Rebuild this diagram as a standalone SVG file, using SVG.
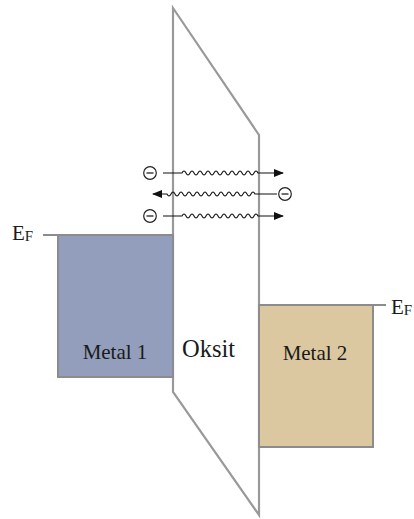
<svg xmlns="http://www.w3.org/2000/svg" width="414" height="519" viewBox="0 0 414 519">
<style>
.edge{fill:none;stroke:#8c8c8c;stroke-width:2}
.ox{fill:#fff;stroke:#999;stroke-width:2.2;stroke-linejoin:miter}
.lbl{font-family:"Liberation Serif","Times New Roman",serif;fill:#1a1a1a}
.wave{fill:none;stroke:#111;stroke-width:1.1}
.el{fill:#fff;stroke:#222;stroke-width:1.2}
.minus{stroke:#222;stroke-width:1.3}
</style>
<defs>
<marker id="ah" markerWidth="10" markerHeight="8" refX="9" refY="4" orient="auto" markerUnits="userSpaceOnUse">
<path d="M0,0 L10,4 L0,8 Z" fill="#111"/>
</marker>
</defs>
<g id="oxide">
<path class="ox" d="M173,8 L259,135 L259,515 L173,392 Z"/>
<text class="lbl" x="182" y="357" font-size="24.5">Oksit</text>
</g>
<g id="metal1">
<rect x="58" y="235" width="115" height="142" fill="#929ebb" stroke="#8c8c8c" stroke-width="2"/>
<text class="lbl" x="115" y="359" font-size="21" text-anchor="middle">Metal 1</text>
</g>
<g id="metal2">
<rect x="259" y="305" width="114" height="142" fill="#dcc8a0" stroke="#8c8c8c" stroke-width="2"/>
<text class="lbl" x="315" y="360" font-size="21" text-anchor="middle">Metal 2</text>
</g>
<g id="ef-left">
<line class="edge" x1="43" y1="235" x2="58" y2="235"/>
<text class="lbl" x="12" y="240" font-size="21">E<tspan font-size="15" dy="1">F</tspan></text>
</g>
<g id="ef-right">
<line class="edge" x1="373" y1="305" x2="386" y2="305"/>
<text class="lbl" x="391" y="314" font-size="21">E<tspan font-size="15" dy="1">F</tspan></text>
</g>
<g id="connectors">
<path class="wave" marker-end="url(#ah)" d="M163,173 L182,173 q2,-4 4,0 t4,0 t4,0 t4,0 t4,0 t4,0 t4,0 t4,0 t4,0 t4,0 t4,0 t4,0 t4,0 t4,0 t4,0 t4,0 t4,0 t4,0 t4,0 L283,173"/>
<path class="wave" marker-end="url(#ah)" d="M277,194 L255,194 q-2,-4 -4,0 t-4,0 t-4,0 t-4,0 t-4,0 t-4,0 t-4,0 t-4,0 t-4,0 t-4,0 t-4,0 t-4,0 t-4,0 t-4,0 t-4,0 t-4,0 t-4,0 t-4,0 t-4,0 t-4,0 t-4,0 t-4,0 L153,194"/>
<path class="wave" marker-end="url(#ah)" d="M163,216 L182,216 q2,-4 4,0 t4,0 t4,0 t4,0 t4,0 t4,0 t4,0 t4,0 t4,0 t4,0 t4,0 t4,0 t4,0 t4,0 t4,0 t4,0 t4,0 t4,0 t4,0 L283,216"/>
</g>
<g id="electron1"><circle class="el" cx="150" cy="173" r="6.3"/><line class="minus" x1="146.5" y1="173" x2="153.5" y2="173"/></g>
<g id="electron2"><circle class="el" cx="285" cy="194" r="6.3"/><line class="minus" x1="281.5" y1="194" x2="288.5" y2="194"/></g>
<g id="electron3"><circle class="el" cx="150" cy="216" r="6.3"/><line class="minus" x1="146.5" y1="216" x2="153.5" y2="216"/></g>
</svg>
